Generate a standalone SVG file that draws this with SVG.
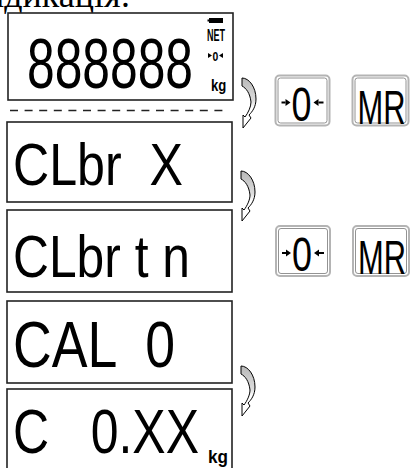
<svg xmlns="http://www.w3.org/2000/svg" width="412" height="468" viewBox="0 0 412 468">
<style>
.box{fill:#fff;stroke:#222;stroke-width:1.6}
.lcd{font-family:"Liberation Sans",Arial,sans-serif;fill:#000}
.sm{font-family:"Liberation Sans",Arial,sans-serif;font-weight:bold;fill:#000}
.btno{fill:#fff;stroke:#b4b4b4;stroke-width:2}
.btni{fill:none;stroke:#777;stroke-width:0.8}
.arr{fill:url(#g);stroke:#000;stroke-width:1;stroke-linejoin:round}
</style>
<defs>
<linearGradient id="g" x1="0" y1="0" x2="0" y2="1">
<stop offset="0" stop-color="#b8b8b8"/>
<stop offset="0.45" stop-color="#dcdcdc"/>
<stop offset="0.6" stop-color="#fff"/>
</linearGradient>
<path id="curl" class="arr" d="M0,0 C7,0 14,9 14,21 C14,29 10,34 7,37 L9,40 L1,50 L1,37 L3,39 C6,35 9,29 9,24 C8,15 4,10 0,8 Z"/>
<g id="zbtn">
<rect class="btno" x="0" y="0" width="54" height="50" rx="4"/>
<rect class="btni" x="2.5" y="2.5" width="49" height="45" rx="2.5"/>
<text class="lcd" x="16" y="45" font-size="49" textLength="20" lengthAdjust="spacingAndGlyphs">0</text>
<path d="M6,27 H10" stroke="#000" stroke-width="2"/>
<polygon points="10,23.5 15,27 10,30.5" fill="#000"/>
<path d="M43,27 H48" stroke="#000" stroke-width="2"/>
<polygon points="43,23.5 38,27 43,30.5" fill="#000"/>
</g>
<g id="mrbtn">
<rect class="btno" x="0" y="0" width="56" height="50" rx="4"/>
<rect class="btni" x="2.5" y="2.5" width="51" height="45" rx="2.5"/>
<text class="lcd" x="5" y="48" font-size="49" textLength="48" lengthAdjust="spacingAndGlyphs">MR</text>
</g>
</defs>

<text x="-27" y="7" font-family="Liberation Serif,'Times New Roman',serif" font-size="36" fill="#000">Індикація:</text>

<g id="display1">
<rect class="box" x="8" y="13" width="225" height="87"/>
<text class="lcd" transform="translate(27,88) scale(0.711,1)" x="0" y="0" font-size="70">888888</text>
<rect x="209" y="18" width="14" height="5" fill="#000"/>
<rect x="207.5" y="19.5" width="2" height="2" fill="#000"/>
<text class="sm" transform="translate(207,41) scale(0.53,1)" x="0" y="0" font-size="17">NET</text>
<text class="sm" transform="translate(212.5,61) scale(0.8,1)" x="0" y="0" font-size="13">0</text>
<polygon points="208,53 212,55.5 208,58" fill="#000"/>
<polygon points="223,53 219,55.5 223,58" fill="#000"/>
<text class="sm" transform="translate(211,91) scale(0.82,1)" x="0" y="0" font-size="16">kg</text>
</g>
<line x1="10" y1="110.5" x2="229" y2="110.5" stroke="#222" stroke-width="1.5" stroke-dasharray="8,6.6"/>

<g id="display2">
<rect class="box" x="7" y="122" width="225" height="80"/>
<text class="lcd" x="13" y="185" font-size="60" textLength="170" lengthAdjust="spacingAndGlyphs" xml:space="preserve">CLbr  X</text>
</g>
<g id="display3">
<rect class="box" x="7" y="210" width="225" height="82"/>
<text class="lcd" x="13" y="277" font-size="60" textLength="177" lengthAdjust="spacingAndGlyphs" xml:space="preserve">CLbr t n</text>
</g>
<g id="display4">
<rect class="box" x="7" y="301" width="225" height="82"/>
<text class="lcd" x="13" y="367" font-size="64" textLength="162" lengthAdjust="spacingAndGlyphs" xml:space="preserve">CAL  0</text>
</g>
<g id="display5">
<rect class="box" x="7" y="389" width="225" height="90"/>
<text class="lcd" transform="translate(13,453) scale(0.793,1)" x="0" y="0" font-size="63" xml:space="preserve">C   0.XX</text>
<text class="sm" transform="translate(208,463) scale(0.9,1)" x="0" y="0" font-size="19">kg</text>
</g>

<g id="buttons1">
<use href="#zbtn" x="275.5" y="75.5"/>
<use href="#mrbtn" x="352.5" y="75.5"/>
</g>
<g id="buttons2">
<use href="#zbtn" x="276" y="226"/>
<use href="#mrbtn" x="353" y="226"/>
</g>

<g id="connectors">
<use href="#curl" x="242" y="78"/>
<use href="#curl" x="241" y="171"/>
<use href="#curl" x="241" y="366"/>
</g>
</svg>
